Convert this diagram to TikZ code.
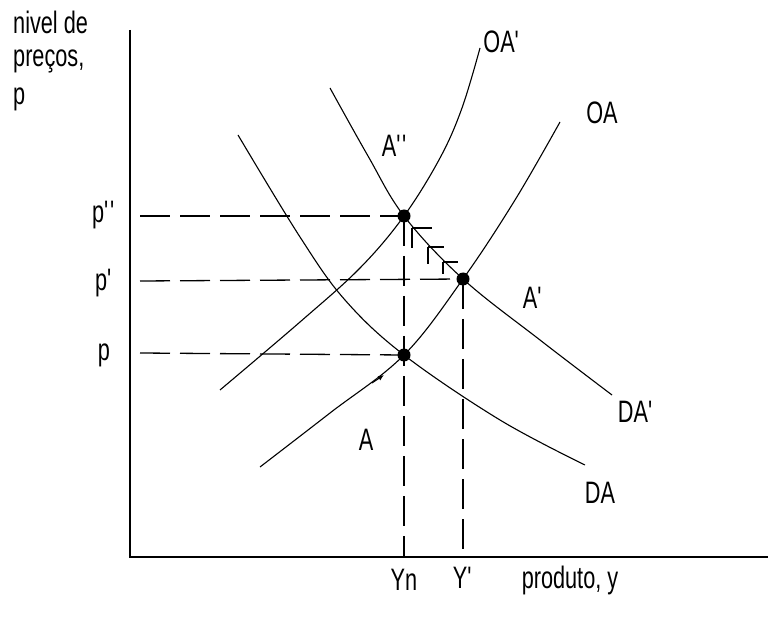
\documentclass[tikz,border=0pt]{standalone}
\usepackage{fontspec}
\usetikzlibrary{arrows.meta}
\setmainfont{Liberation Sans}[FakeStretch=0.7]
\newcommand{\pr}{\textquotesingle}
\begin{document}
\begin{tikzpicture}[x=1pt,y=-1pt,
  curve/.style={line width=1.1pt},
  guide/.style={line width=1.3pt,dash pattern=on 30pt off 10pt},
  axis/.style={line width=1.6pt},
  lbl/.style={font=\fontsize{31}{33}\selectfont,inner sep=0pt},
  eq/.style={circle,fill=black,minimum size=13pt,inner sep=0pt},
  tick/.style={line width=1.3pt}]
\useasboundingbox[fill=white] (0,0) rectangle (768,617);
% axes
\coordinate (o) at (130,557);
\coordinate (ytop) at (130,30);
\coordinate (xend) at (768,557);
\draw[axis] (ytop) -- (o) -- (xend);
% equilibrium points
\node[eq] (E2) at (404,216) {};
\node[eq] (E1) at (463,279) {};
\node[eq] (E0) at (404,355) {};
% guides
\coordinate (g2) at (140,216);
\coordinate (g1) at (140,281);
\coordinate (g0) at (140,353);
\coordinate (b0) at (404,557);
\coordinate (b1) at (463,557);
\draw[guide] (g2) -- (E2.center);
\draw[guide] (g1) -- (E1.center);
\draw[guide] (g0) -- (E0.center);
\draw[guide] (E2.center) -- (b0);
\draw[guide] (E1.center) -- (b1);
% curves
\draw[curve] plot[smooth,tension=0.6] coordinates {(220,390) (300,322) (360,268) (404,216) (440,158) (462,108) (480,48)};
\draw[curve] plot[smooth,tension=0.6] coordinates {(260,467) (330,413) (404,355) (463,279) (515,200) (560,122)};
\draw[curve] plot[smooth,tension=0.6] coordinates {(330,88) (368,156) (404,216) (463,279) (540,340) (612,395)};
\draw[curve] plot[smooth,tension=0.6] coordinates {(238,135) (300,237) (345,300) (404,355) (500,420) (585,465)};
% arrows
\draw[tick] (412,228) -- +(20,0);
\draw[tick] (412,228) -- +(0,20);
\draw[tick] (428,247) -- +(16,0);
\draw[tick] (428,247) -- +(0,17);
\draw[tick] (443,262) -- +(15,0);
\draw[tick] (443,262) -- +(0,12);
\draw[line width=1.1pt,-{Latex[length=6pt,width=5pt]}] (372,383) -- (384,375);
% labels
\node[lbl,anchor=west] (t1) at (13,22) {nivel de};
\node[lbl,anchor=west] (t2) at (13,61) {preços,};
\node[lbl,anchor=west] (t3) at (13,99) {p};
\node[lbl] (lp2) at (104,215) {p\pr\pr};
\node[lbl] (lp1) at (104,283) {p\pr};
\node[lbl] (lp0) at (104,355) {p};
\node[lbl] (lyn) at (404,580) {Yn};
\node[lbl] (ly1) at (463,578) {Y\pr};
\node[lbl] (lpr) at (570,580) {produto, y};
\node[lbl] (loa2) at (502,42) {OA\pr};
\node[lbl] (loa) at (602,113) {OA};
\node[lbl] (lda2) at (636,412) {DA\pr};
\node[lbl] (lda) at (600,493) {DA};
\node[lbl] (la2) at (395,146) {A\pr\pr};
\node[lbl] (la1) at (533,298) {A\pr};
\node[lbl] (la0) at (366,440) {A};
\end{tikzpicture}
\end{document}
